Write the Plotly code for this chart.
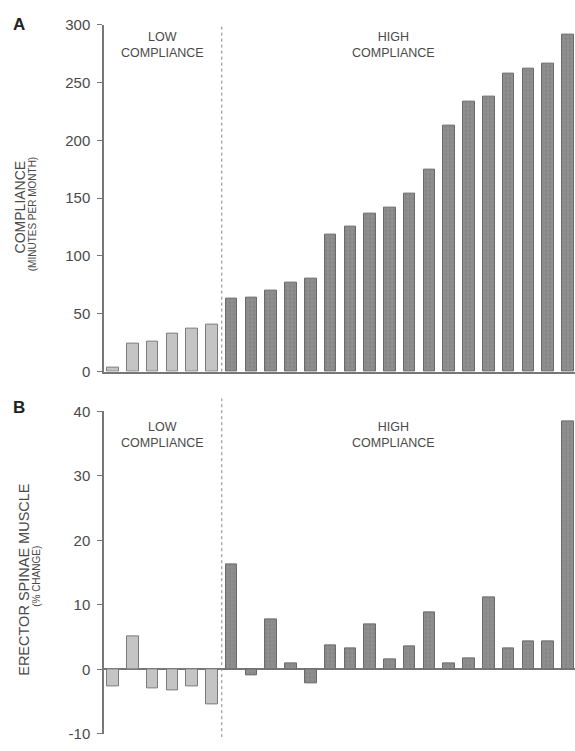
import plotly.graph_objects as go

# Subjects ordered by compliance; first six are the low-compliance group
subjects = list(range(24))
n_low = 6
compliance = [3, 24, 26, 33, 37, 41, 63, 64, 70, 77, 80, 118,
              125, 137, 142, 154, 175, 213, 233, 238, 258, 262, 266, 291]
erector_change = [-2.6, 5.1, -2.9, -3.3, -2.6, -5.4, 16.3, -0.9, 7.7, 1.0, -2.1, 3.8,
                  3.3, 7.0, 1.5, 3.6, 8.9, 1.0, 1.7, 11.1, 3.3, 4.4, 4.4, 38.5]
top_ticks = [0, 50, 100, 150, 200, 250, 300]
bottom_ticks = [-10, 0, 10, 20, 30, 40]
bottom_tick_text = ["-10", "0", "10", "20", "30", "40"]

W, H = 575, 751
LOW_FILL, LOW_LINE = "#c4c4c4", "#7a7a7a"
HIGH_FILL, HIGH_LINE = "#8e8e8e", "#6a6a6a"
TXT = "#4a4a4a"
FONT = "Liberation Sans, Arial, sans-serif"


def px_x(p):
    return p / W


def px_y(p):
    return 1 - p / H


fig = go.Figure()

for yaxis, xaxis, values in (("y", "x", compliance), ("y2", "x2", erector_change)):
    fig.add_trace(go.Bar(
        x=subjects[:n_low], y=values[:n_low], width=0.58,
        marker=dict(color=LOW_FILL, line=dict(color=LOW_LINE, width=1)),
        xaxis=xaxis, yaxis=yaxis, showlegend=False, hoverinfo="y"))
    fig.add_trace(go.Bar(
        x=subjects[n_low:], y=values[n_low:], width=0.58,
        marker=dict(color=HIGH_FILL, line=dict(color=HIGH_LINE, width=1),
                    pattern=dict(shape=".", fgcolor="#777777", bgcolor=HIGH_FILL,
                                 size=4, solidity=0.25)),
        xaxis=xaxis, yaxis=yaxis, showlegend=False, hoverinfo="y"))

x_range = [-0.455, 23.36]
x_dom = [px_x(104), 1.0]

fig.update_layout(
    width=W, height=H,
    margin=dict(l=0, r=0, t=0, b=0),
    paper_bgcolor="white", plot_bgcolor="white",
    font=dict(family=FONT, color=TXT),
    bargap=0,
    xaxis=dict(domain=x_dom, range=x_range, anchor="y", showgrid=False,
               showticklabels=False, ticks="", zeroline=False,
               showline=True, linecolor="#777777", linewidth=1.5),
    yaxis=dict(domain=[px_y(371), px_y(16)], range=[0, 300], anchor="x",
               tickvals=top_ticks, ticks="outside", ticklen=5, tickwidth=1.2,
               tickcolor="#777777", showgrid=False, zeroline=False,
               showline=True, linecolor="#777777", linewidth=1.5,
               tickfont=dict(size=15, color=TXT), ticklabelstandoff=4),
    xaxis2=dict(domain=x_dom, range=x_range, anchor="y2", showgrid=False,
                showticklabels=False, ticks="", zeroline=False, showline=False),
    yaxis2=dict(domain=[px_y(741.7), px_y(411.7)], range=[-10, 40], anchor="x2",
                tickvals=bottom_ticks, ticktext=bottom_tick_text,
                ticks="outside", ticklen=5, tickwidth=1.2,
                tickcolor="#777777", showgrid=False,
                zeroline=True, zerolinecolor="#777777", zerolinewidth=1.5,
                showline=True, linecolor="#777777", linewidth=1.5,
                tickfont=dict(size=15, color=TXT), ticklabelstandoff=4),
)

# Dashed divider between the two compliance groups
split = n_low - 0.5
fig.add_shape(type="line", xref="x", yref="y domain", x0=split, x1=split, y0=0, y1=1,
              line=dict(color="#888888", width=1, dash="dot"))
fig.add_shape(type="line", xref="x2", yref="y2 domain", x0=split, x1=split, y0=-0.01, y1=1.04,
              line=dict(color="#888888", width=1, dash="dot"))

ann = []


def label(x, y, text, size, **kw):
    ann.append(dict(xref="paper", yref="paper", x=px_x(x), y=px_y(y), text=text,
                    showarrow=False, xanchor="center", yanchor="middle",
                    font=dict(size=size, color=kw.pop("color", TXT), family=FONT), **kw))


# Group headers
for yy in (37, 436):
    label(162, yy, "LOW<br>COMPLIANCE", 12.5)
    label(393, yy, "HIGH<br>COMPLIANCE", 12.5)

# Panel letters
label(19, 16, "<b>A</b>", 17, color="#222222")
label(19, 408, "<b>B</b>", 17, color="#222222")

# Axis titles
label(20, 203, "COMPLIANCE", 14, textangle=-90)
label(32, 210, "(MINUTES PER MONTH)", 10, textangle=-90)
label(24, 584, "ERECTOR SPINAE MUSCLE", 14.5, textangle=-90)
label(37, 581, "(% CHANGE)", 10, textangle=-90)

fig.update_layout(annotations=ann)

fig.write_html("out.html")
